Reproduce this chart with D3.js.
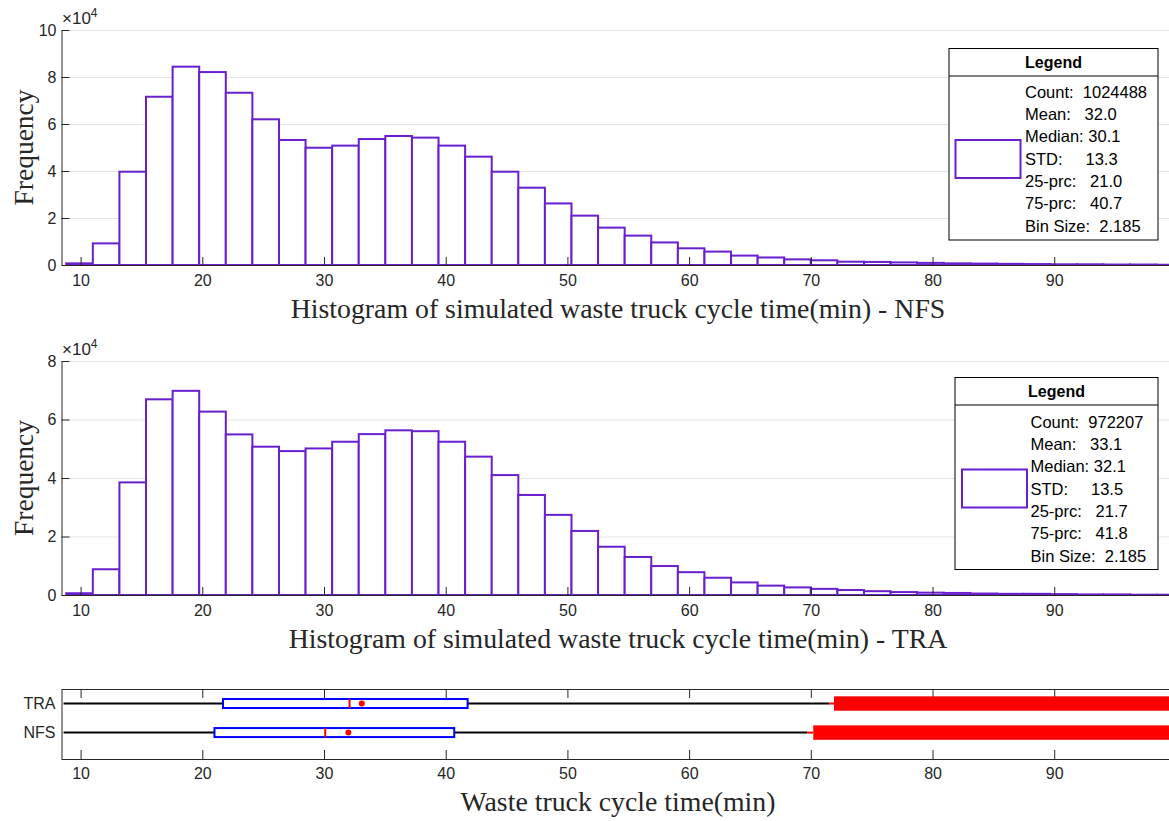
<!DOCTYPE html>
<html>
<head>
<meta charset="utf-8">
<script src="https://cdn.jsdelivr.net/npm/d3@7"></script>
<style>
  body { margin: 0; background: #fff; }
  svg text { font-family: "Liberation Sans", Arial, Helvetica, sans-serif; }
  svg .serif { font-family: "Liberation Serif", "Times New Roman", serif; }
  svg .pre { white-space: pre; }
</style>
</head>
<body>
<svg id="chart" width="1169" height="821"></svg>
<script>
// ---- data ----
const binStart = 8.82;
const binSize = 2.185;

// Frequency per bin, NFS scenario
const nfsCounts = [700, 9200, 39700, 71600, 84400, 82100, 73300, 62000, 53200, 49900,
  50800, 53600, 54900, 54200, 50800, 46100, 39700, 32900, 26200, 21000,
  15900, 12500, 9600, 7100, 5700, 4000, 3200, 2400, 2000, 1400,
  1300, 1100, 900, 700, 600, 500, 400, 300, 300, 200, 200, 100];

// Frequency per bin, TRA scenario
const traCounts = [600, 8800, 38500, 66900, 69800, 62700, 54900, 50700, 49200, 50100,
  52400, 55000, 56300, 56000, 52400, 47300, 41000, 34200, 27400, 21900,
  16500, 13000, 9900, 7800, 5900, 4300, 3200, 2600, 2100, 1700,
  1300, 1000, 800, 700, 500, 400, 400, 300, 200, 200, 100, 100];

const xTicks = [10, 20, 30, 40, 50, 60, 70, 80, 90];
const nfsYTicks = [0, 20000, 40000, 60000, 80000, 100000];
const traYTicks = [0, 20000, 40000, 60000, 80000];

const nfsLegendRows = ["Count:  1024488", "Mean:   32.0", "Median: 30.1", "STD:     13.3",
  "25-prc:   21.0", "75-prc:   40.7", "Bin Size:  2.185"];
const traLegendRows = ["Count:  972207", "Mean:   33.1", "Median: 32.1", "STD:     13.5",
  "25-prc:   21.7", "75-prc:   41.8", "Bin Size:  2.185"];

// Box plot summary (order: TRA, NFS)
const boxGroups = ["TRA", "NFS"];
const boxQ1 = [21.7, 21.0];
const boxMedian = [32.1, 30.1];
const boxQ3 = [41.8, 40.7];
const boxMean = [33.1, 32.0];
const whiskerLo = [8.6, 8.6];
const whiskerHi = [71.5, 69.7];
const outlierLo = [71.9, 70.2];
const outlierHi = [130, 130];

// ---- drawing ----
const svg = d3.select("#chart");
const axisColor = "#262626";
const histColor = "#6a1fce";
const tickFont = "16px";

const x = d3.scaleLinear().domain([8.43, 99.43]).range([61.5, 1169]);

function drawHistogram(counts, yTicks, yMax, top, bottom, title, legendRows, lg) {
  const y = d3.scaleLinear().domain([0, yMax]).range([bottom, top]);
  const g = svg.append("g");

  // horizontal grid
  g.append("g").selectAll("line").data(yTicks.filter(d => d > 0)).join("line")
    .attr("x1", x.range()[0]).attr("x2", x.range()[1])
    .attr("y1", d => y(d) + 0.5).attr("y2", d => y(d) + 0.5)
    .attr("stroke", "#e3e3e3").attr("stroke-width", 1);

  // bars
  g.append("g").selectAll("rect").data(counts).join("rect")
    .attr("x", (d, i) => x(binStart + i * binSize))
    .attr("width", x(binStart + binSize) - x(binStart))
    .attr("y", d => y(d))
    .attr("height", d => y(0) - y(d))
    .attr("fill", "#fff")
    .attr("stroke", histColor)
    .attr("stroke-width", 2);

  // y axis
  const ya = g.append("g").attr("transform", `translate(${x.range()[0]},0)`)
    .call(d3.axisLeft(y).tickValues(yTicks).tickSize(-8).tickSizeOuter(0).tickPadding(5)
      .tickFormat(d => d / 10000));
  // x axis
  const xa = g.append("g").attr("transform", `translate(0,${bottom})`)
    .call(d3.axisBottom(x).tickValues(xTicks).tickSize(-8).tickSizeOuter(0).tickPadding(10));
  [ya, xa].forEach(a => {
    a.select(".domain").attr("stroke", axisColor).attr("stroke-width", 1);
    a.selectAll(".tick line").attr("stroke", axisColor);
    a.selectAll(".tick text").attr("fill", axisColor).style("font-size", tickFont);
  });

  // exponent label
  const ex = g.append("text").attr("x", 62).attr("y", top - 6)
    .attr("fill", axisColor).style("font-size", "17px");
  ex.append("tspan").text("\u00d710");
  ex.append("tspan").attr("dy", -7).style("font-size", "12px").text("4");

  // axis titles
  g.append("text").attr("class", "serif")
    .attr("transform", `translate(33,${(top + bottom) / 2}) rotate(-90)`)
    .attr("text-anchor", "middle").attr("fill", axisColor)
    .style("font-size", "27.5px").text("Frequency");
  g.append("text").attr("class", "serif")
    .attr("x", 618).attr("y", bottom + 53)
    .attr("text-anchor", "middle").attr("fill", axisColor)
    .style("font-size", "27.8px").text(title);

  // legend
  const L = g.append("g");
  L.append("rect").attr("x", lg.x0).attr("y", lg.y0)
    .attr("width", lg.x1 - lg.x0).attr("height", lg.y1 - lg.y0)
    .attr("fill", "#fff").attr("stroke", "#000").attr("stroke-width", 1);
  L.append("line").attr("x1", lg.x0).attr("x2", lg.x1)
    .attr("y1", lg.yh).attr("y2", lg.yh).attr("stroke", "#000");
  L.append("text").attr("x", (lg.x0 + lg.x1) / 2).attr("y", (lg.y0 + lg.yh) / 2)
    .attr("text-anchor", "middle").attr("dominant-baseline", "central")
    .style("font-size", "16px").style("font-weight", "bold").text("Legend");
  L.append("rect").attr("x", lg.sx).attr("y", lg.sy).attr("width", 65).attr("height", 38)
    .attr("fill", "#fff").attr("stroke", histColor).attr("stroke-width", 2);
  L.selectAll("text.row").data(legendRows).join("text")
    .attr("class", "row pre").attr("xml:space", "preserve")
    .attr("x", lg.tx).attr("y", (d, i) => lg.ty + i * 22.3)
    .attr("dominant-baseline", "central")
    .style("font-size", "16.5px").text(d => d);
}

drawHistogram(nfsCounts, nfsYTicks, 100000, 30, 265,
  "Histogram of simulated waste truck cycle time(min) - NFS", nfsLegendRows,
  { x0: 949, x1: 1158, y0: 48.5, y1: 240, yh: 76, sx: 955.5, sy: 140, tx: 1025, ty: 91.7 });

drawHistogram(traCounts, traYTicks, 80000, 361, 595,
  "Histogram of simulated waste truck cycle time(min) - TRA", traLegendRows,
  { x0: 955, x1: 1158, y0: 377.5, y1: 569.5, yh: 405, sx: 962, sy: 469.5, tx: 1030.5, ty: 421.7 });

// ---- box plot ----
const bp = svg.append("g");
const bTop = 689, bBottom = 759;
const yb = d3.scaleLinear().domain([0.09, 2.5]).range([bBottom, bTop]);
const gy = i => yb(2 - i);   // TRA on top, NFS below

bp.append("rect").attr("x", x.range()[0] + 0.5).attr("y", bTop + 0.5)
  .attr("width", 1200).attr("height", bBottom - bTop)
  .attr("fill", "#fff").attr("stroke", axisColor).attr("stroke-width", 1);

const bxa = bp.append("g").attr("transform", `translate(0,${bBottom})`)
  .call(d3.axisBottom(x).tickValues(xTicks).tickSize(-9).tickSizeOuter(0).tickPadding(9));
const bxt = bp.append("g").attr("transform", `translate(0,${bTop})`)
  .call(d3.axisTop(x).tickValues(xTicks).tickSize(-9).tickSizeOuter(0).tickFormat(""));
const bya = bp.append("g").attr("transform", `translate(${x.range()[0]},0)`)
  .call(d3.axisLeft(yb).tickValues([2, 1]).tickSize(0).tickPadding(6)
    .tickFormat(d => boxGroups[2 - d]));
[bxa, bxt, bya].forEach(a => {
  a.select(".domain").remove();
  a.selectAll(".tick line").attr("stroke", axisColor);
  a.selectAll(".tick text").attr("fill", axisColor).style("font-size", tickFont);
});

boxGroups.forEach((name, i) => {
  const cy = gy(i);
  // whiskers
  bp.append("line").attr("x1", x(whiskerLo[i])).attr("x2", x(whiskerHi[i]))
    .attr("y1", cy).attr("y2", cy).attr("stroke", "#000").attr("stroke-width", 2);
  // outliers (dense enough to form a solid band)
  bp.append("line").attr("x1", x(whiskerHi[i])).attr("x2", x(outlierLo[i]))
    .attr("y1", cy).attr("y2", cy).attr("stroke", "#ff0000").attr("stroke-width", 2);
  bp.append("rect").attr("x", x(outlierLo[i])).attr("width", x(outlierHi[i]) - x(outlierLo[i]))
    .attr("y", cy - 7.2).attr("height", 14.4).attr("fill", "#ff0000");
  // box
  bp.append("rect").attr("x", x(boxQ1[i])).attr("width", x(boxQ3[i]) - x(boxQ1[i]))
    .attr("y", cy - 4.5).attr("height", 9)
    .attr("fill", "#fff").attr("stroke", "#0000ff").attr("stroke-width", 2);
  // median
  bp.append("line").attr("x1", x(boxMedian[i])).attr("x2", x(boxMedian[i]))
    .attr("y1", cy - 4.5).attr("y2", cy + 4.5).attr("stroke", "#ff0000").attr("stroke-width", 2);
  // mean
  bp.append("circle").attr("cx", x(boxMean[i])).attr("cy", cy).attr("r", 3).attr("fill", "#ff0000");
});

bp.append("text").attr("class", "serif")
  .attr("x", 618).attr("y", 811)
  .attr("text-anchor", "middle").attr("fill", axisColor)
  .style("font-size", "27.8px").text("Waste truck cycle time(min)");
</script>
</body>
</html>
